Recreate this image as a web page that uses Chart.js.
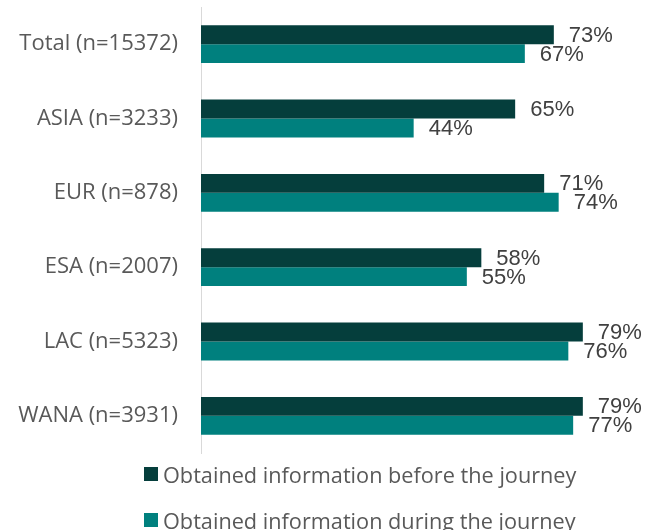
<!DOCTYPE html>
<html>
<head>
<meta charset="utf-8">
<script src="https://cdn.jsdelivr.net/npm/chart.js@4.4.1/dist/chart.umd.min.js"></script>
<style>
  html, body { margin: 0; padding: 0; background: #fff; }
  #wrap { position: relative; width: 661px; height: 530px; overflow: hidden; }
  #legend { position: absolute; left: 144px; top: 462px; font-family: 'Open Sans', sans-serif; font-size: 21.7px; color: #595959; }
  .item { display: flex; align-items: center; height: 24px; margin-bottom: 22px; white-space: nowrap; }
  .box { width: 14px; height: 14px; margin-right: 5px; }
</style>
</head>
<body>
<div id="wrap">
  <canvas id="regionChart" width="661" height="530"></canvas>
  <div id="legend"></div>
</div>
<script>
document.addEventListener('DOMContentLoaded', function () {
    const categories = ['Total (n=15372)', 'ASIA (n=3233)', 'EUR (n=878)', 'ESA (n=2007)', 'LAC (n=5323)', 'WANA (n=3931)'];
    const beforeJourney = [73, 65, 71, 58, 79, 79];
    const duringJourney = [67, 44, 74, 55, 76, 77];
    const seriesNames = ['Obtained information before the journey', 'Obtained information during the journey'];
    const seriesColors = ['#053E3C', '#00807E'];

    const fontFamily = "'Open Sans', sans-serif";

    // etiquetas de valor a la derecha de cada barra
    const valueLabels = {
        id: 'valueLabels',
        afterDatasetsDraw(chart) {
            const ctx = chart.ctx;
            ctx.save();
            ctx.font = "22px 'Liberation Sans', Arial, sans-serif";
            ctx.fillStyle = '#404040';
            ctx.textAlign = 'left';
            ctx.textBaseline = 'middle';
            chart.data.datasets.forEach((ds, i) => {
                const meta = chart.getDatasetMeta(i);
                meta.data.forEach((bar, j) => {
                    ctx.fillText(ds.data[j] + '%', bar.x + 15, bar.y + 1);
                });
            });
            ctx.restore();
        }
    };

    const ctx = document.getElementById('regionChart').getContext('2d');
    new Chart(ctx, {
        type: 'bar',
        data: {
            labels: categories,
            datasets: [{
                label: seriesNames[0],
                data: beforeJourney,
                backgroundColor: seriesColors[0]
            }, {
                label: seriesNames[1],
                data: duringJourney,
                backgroundColor: seriesColors[1]
            }]
        },
        options: {
            indexAxis: 'y',
            responsive: false,
            animation: false,
            layout: { padding: { top: 7, bottom: 77, right: 25, left: 0 } },
            datasets: {
                bar: { categoryPercentage: 0.51, barPercentage: 1 }
            },
            scales: {
                x: {
                    display: false,
                    min: 0,
                    max: 90
                },
                y: {
                    grid: { display: false, drawTicks: false },
                    border: { display: true, color: '#d9d9d9', width: 1 },
                    ticks: {
                        color: '#595959',
                        padding: 23,
                        font: { family: fontFamily, size: 22 }
                    },
                    afterFit(scale) {
                        scale.width = 201;
                        scale.paddingTop = 0;
                        scale.paddingBottom = 0;
                    }
                }
            },
            plugins: {
                legend: { display: false },
                tooltip: { enabled: false }
            }
        },
        plugins: [valueLabels]
    });

    // leyenda en HTML, una serie por línea
    const legend = document.getElementById('legend');
    seriesNames.forEach((name, i) => {
        const item = document.createElement('div');
        item.className = 'item';
        const box = document.createElement('span');
        box.className = 'box';
        box.style.background = seriesColors[i];
        const text = document.createElement('span');
        text.textContent = name;
        item.appendChild(box);
        item.appendChild(text);
        legend.appendChild(item);
    });
});
</script>
</body>
</html>
